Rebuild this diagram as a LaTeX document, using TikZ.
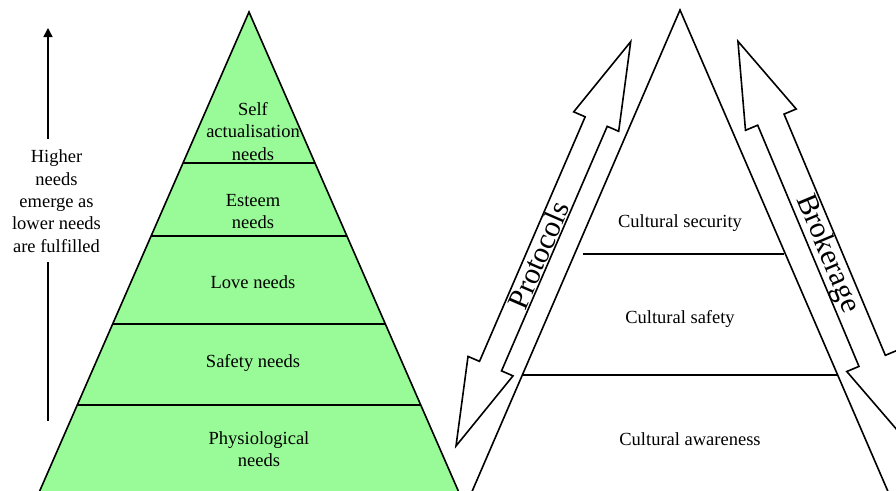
\documentclass[tikz,border=0pt]{standalone}
\usepackage{fontspec}
\setmainfont{Liberation Serif}
\usetikzlibrary{arrows.meta}
\definecolor{pyrgreen}{RGB}{152,251,152}
\begin{document}
\begin{tikzpicture}[x=1pt,y=-1pt,
  lbl/.style={font=\fontsize{18.5}{22.4}\selectfont, align=center, inner sep=0pt},
  big/.style={font=\fontsize{30}{30}\selectfont, inner sep=0pt},
  edge/.style={line width=1.6pt, line join=miter},
  divider/.style={line width=1.5pt},
  blockarrow/.style={draw, fill=white, line width=1.6pt, line join=miter},
  scalearrow/.style={line width=1.6pt}]
\useasboundingbox (0,0) rectangle (896,490);
\clip (0,0) rectangle (896,490);
\fill[white] (0,0) rectangle (896,490);
% left pyramid
\draw[edge, fill=pyrgreen] (249,12) -- (471,520) -- (27,520) -- cycle;
\draw[divider] (183,163) -- (315,163);
\draw[divider] (151,236) -- (347,236);
\draw[divider] (112.7,324) -- (385.3,324);
\draw[divider] (77.3,405) -- (420.7,405);
\node[lbl] (self) at (253,131.2) {Self\\actualisation\\needs};
\node[lbl] (esteem) at (253,211.7) {Esteem\\needs};
\node[lbl] (love) at (253,282) {Love needs};
\node[lbl] (safety) at (253,363.4) {Safety needs};
\node[lbl] (phys) at (259,449) {Physiological\\needs};
% left scale arrow
\node[lbl] (higher) at (56.5,201.2) {Higher\\needs\\emerge as\\lower needs\\are fulfilled};
\coordinate (uptip) at (48,28);
\coordinate (upstart) at (48,139);
\coordinate (downstart) at (48,262);
\coordinate (downend) at (48,421);
\draw[scalearrow, -{Triangle[width=9pt,length=9pt]}] (upstart) -- (uptip);
\draw[scalearrow] (downstart) -- (downend);
% right triangle
\draw[edge] (680,10) -- (900.3,520) -- (459.7,520) -- cycle;
\draw[divider] (583,254) -- (784,254);
\draw[divider] (522.3,375) -- (837.7,375);
\node[lbl] (csec) at (680,223.4) {Cultural security};
\node[lbl] (csaf) at (680,319) {Cultural safety};
\node[lbl] (caw) at (690,438.7) {Cultural awareness};
% block arrows
\draw[blockarrow] (630.7,41.7) -- (618.68,131.29) -- (607.21,126.33) -- (501.53,370.89) -- (513.0,375.85) -- (456.0,446.0) -- (468.02,356.41) -- (479.49,361.37) -- (585.17,116.81) -- (573.70,111.85) -- cycle;
\draw[blockarrow] (737.94,41.28) -- (796.21,109.0) -- (784.03,114.11) -- (885.33,355.31) -- (897.51,350.2) -- (905.06,439.22) -- (846.79,371.5) -- (858.97,366.39) -- (757.67,125.19) -- (745.49,130.3) -- cycle;
\node[big, rotate=66.6] (prot) at (538.5,255) {Protocols};
\node[big, rotate=-67.2] (brok) at (827.3,254) {Brokerage};
\end{tikzpicture}
\end{document}
